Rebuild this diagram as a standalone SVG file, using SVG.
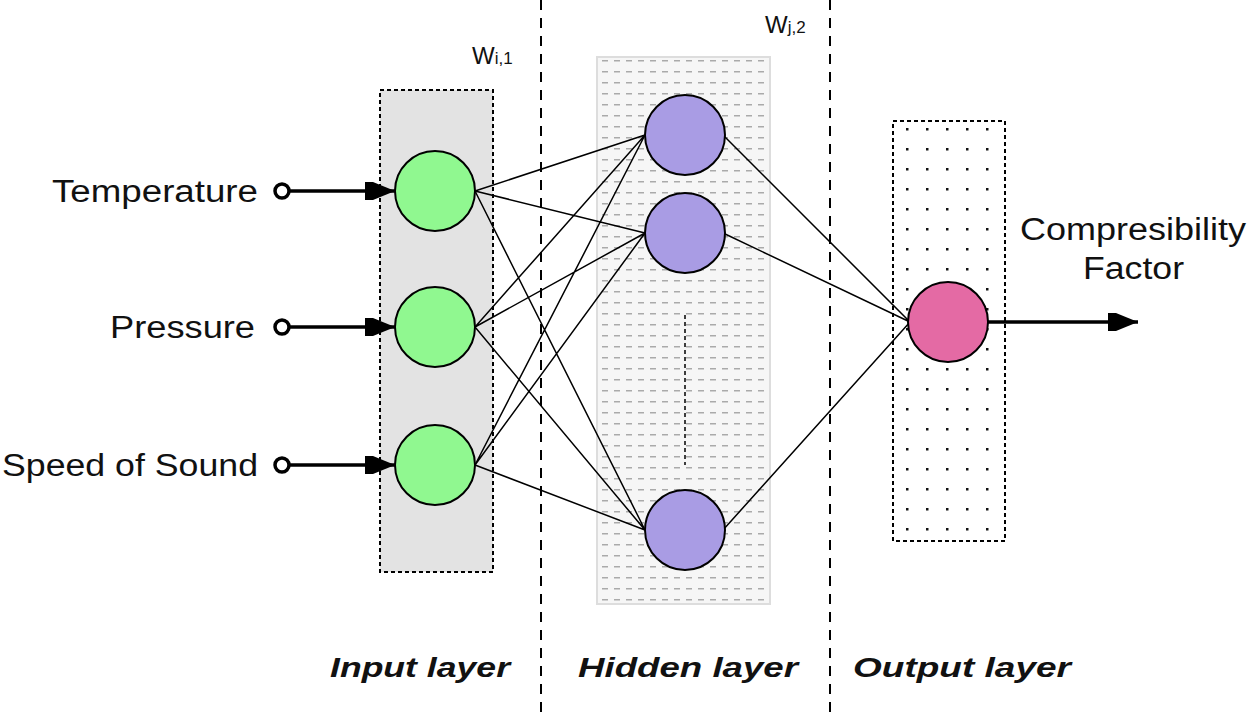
<svg xmlns="http://www.w3.org/2000/svg" width="1247" height="714" viewBox="0 0 1247 714">
<defs>
<pattern id="dash" width="12" height="11" patternUnits="userSpaceOnUse"><rect x="2" y="5" width="6" height="1.5" fill="#aaa"/></pattern>
<pattern id="dots" width="20" height="20" patternUnits="userSpaceOnUse"><rect x="6" y="8" width="2.5" height="2.5" fill="#111"/></pattern>
<marker id="ah2" viewBox="0 0 30 20" refX="30" refY="10" markerWidth="30" markerHeight="20" orient="auto" markerUnits="userSpaceOnUse"><path d="M0,1 L8,1 L30,10 L8,19 L0,19 Z" fill="#000"/></marker>
</defs>
<style>
text{font-family:"Liberation Sans",Arial,sans-serif;fill:#111}
.lbl{font-size:31px}
.lay{font-size:28px;font-weight:bold;font-style:italic}
.sep{stroke:#000;stroke-width:2;stroke-dasharray:10,8}
.c{stroke:#000;stroke-width:1.5;fill:none}
.in{fill:#90f890;stroke:#000;stroke-width:2}
.hid{fill:#a99ce4;stroke:#000;stroke-width:2}
.out{fill:#e46aa4;stroke:#000;stroke-width:2}
.arr{stroke:#000;stroke-width:3.5}
</style>
<rect width="1247" height="714" fill="#fff"/>
<line class="sep" x1="541" y1="0" x2="541" y2="714"/>
<line class="sep" x1="830" y1="0" x2="830" y2="714"/>
<rect x="380" y="90" width="113" height="482" fill="#e3e3e3" stroke="#000" stroke-width="2" stroke-dasharray="4,3"/>
<rect x="597" y="57" width="173" height="547" fill="#f6f6f6" stroke="#ddd" stroke-width="2"/>
<rect x="597" y="57" width="173" height="547" fill="url(#dash)"/>
<rect x="893" y="121" width="112" height="420" fill="url(#dots)" stroke="#000" stroke-width="2" stroke-dasharray="4,3"/>
<line x1="685" y1="315" x2="685" y2="465" stroke="#000" stroke-width="1.5" stroke-dasharray="4,3"/>
<g id="connectors">
<path class="c" d="M475,191 L645,135 M475,191 L645,233 M475,191 L645,530 M475,327 L645,135 M475,327 L645,233 M475,327 L645,530 M475,465 L645,135 M475,465 L645,233 M475,465 L645,530 M723,135 L910,322 M723,233 L910,322 M723,530 L910,322"/>
<line class="arr" x1="288" y1="191" x2="395" y2="191" marker-end="url(#ah2)"/>
<line class="arr" x1="288" y1="327" x2="395" y2="327" marker-end="url(#ah2)"/>
<line class="arr" x1="288" y1="465" x2="395" y2="465" marker-end="url(#ah2)"/>
<line class="arr" x1="988" y1="322" x2="1138" y2="322" marker-end="url(#ah2)"/>
<circle cx="282" cy="191" r="7" fill="#fff" stroke="#000" stroke-width="3.5"/>
<circle cx="282" cy="327" r="7" fill="#fff" stroke="#000" stroke-width="3.5"/>
<circle cx="282" cy="465" r="7" fill="#fff" stroke="#000" stroke-width="3.5"/>
</g>
<g id="in1"><circle class="in" cx="435" cy="191" r="40"/><text class="lbl" x="52" y="202" textLength="206" lengthAdjust="spacingAndGlyphs">Temperature</text></g>
<g id="in2"><circle class="in" cx="435" cy="327" r="40"/><text class="lbl" x="110" y="338" textLength="145" lengthAdjust="spacingAndGlyphs">Pressure</text></g>
<g id="in3"><circle class="in" cx="435" cy="465" r="40"/><text class="lbl" x="2" y="476" textLength="256" lengthAdjust="spacingAndGlyphs">Speed of Sound</text></g>
<g id="h1"><circle class="hid" cx="685" cy="135" r="40"/></g>
<g id="h2"><circle class="hid" cx="685" cy="233" r="40"/></g>
<g id="h3"><circle class="hid" cx="685" cy="530" r="40"/></g>
<g id="o1"><circle class="out" cx="948" cy="322" r="40"/></g>
<text class="lbl" x="1020" y="240" textLength="226" lengthAdjust="spacingAndGlyphs">Compresibility</text>
<text class="lbl" x="1083" y="279" textLength="101" lengthAdjust="spacingAndGlyphs">Factor</text>
<text x="472" y="64" font-size="24">W<tspan font-size="17">i,1</tspan></text>
<text x="765" y="33" font-size="24">W<tspan font-size="17">j,2</tspan></text>
<text class="lay" x="330" y="677" textLength="180" lengthAdjust="spacingAndGlyphs">Input layer</text>
<text class="lay" x="578" y="677" textLength="220" lengthAdjust="spacingAndGlyphs">Hidden layer</text>
<text class="lay" x="853" y="677" textLength="218" lengthAdjust="spacingAndGlyphs">Output layer</text>
</svg>
